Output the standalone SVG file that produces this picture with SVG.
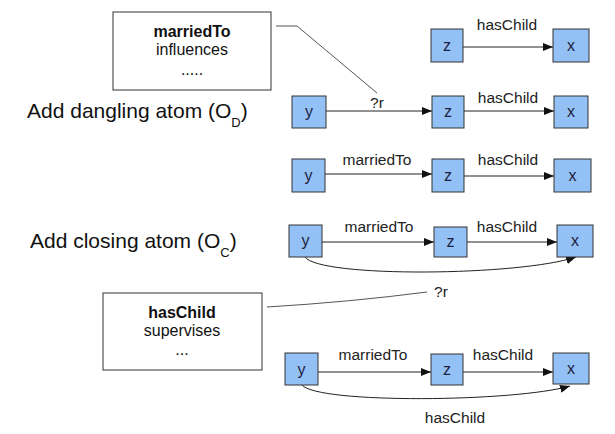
<svg xmlns="http://www.w3.org/2000/svg" width="615" height="434" viewBox="0 0 615 434">
<defs>
<style>
.n{fill:#94c1f5;stroke:#333;stroke-width:1}
.nt{font-family:"Liberation Sans",Arial,sans-serif;font-size:16px;fill:#1c2240;text-anchor:middle}
.el{font-family:"Liberation Sans",Arial,sans-serif;font-size:15.5px;fill:#222;text-anchor:middle}
.e{fill:none;stroke:#222;stroke-width:1}
.ld{fill:none;stroke:#555;stroke-width:1}
.bx{fill:#fff;stroke:#333;stroke-width:1}
.bt{font-family:"Liberation Sans",Arial,sans-serif;font-size:16px;fill:#111;text-anchor:middle}
.big{font-family:"Liberation Sans",Arial,sans-serif;font-size:21px;fill:#111}
</style>
<marker id="ah" viewBox="0 0 10 8" refX="10" refY="4" markerWidth="10" markerHeight="8" markerUnits="userSpaceOnUse" orient="auto">
<path d="M0,0 L10,4 L0,8 Z" fill="#111"/>
</marker>
</defs>
<rect width="615" height="434" fill="#fff"/>

<g id="titles">
<text class="big" x="27" y="118">Add dangling atom (O<tspan font-size="13" dy="9">D</tspan><tspan dy="-9">)</tspan></text>
<text class="big" x="30" y="248">Add closing atom (O<tspan font-size="13" dy="9">C</tspan><tspan dy="-9">)</tspan></text>
</g>

<g id="connectors">
<path class="ld" d="M276,26 L297,26 L377,93"/>
<path class="ld" d="M267,307 Q350,302 427,292"/>
<path class="e" marker-end="url(#ah)" d="M463,47 L553,47"/>
<path class="e" marker-end="url(#ah)" d="M326,111 L432,111"/>
<path class="e" marker-end="url(#ah)" d="M464,111 L554,111"/>
<path class="e" marker-end="url(#ah)" d="M325,174 L432,174"/>
<path class="e" marker-end="url(#ah)" d="M464,176 L554,176"/>
<path class="e" marker-end="url(#ah)" d="M322,242 L434,242"/>
<path class="e" marker-end="url(#ah)" d="M467,242 L557,242"/>
<path class="e" marker-end="url(#ah)" d="M305,257 C320,278 520,276 576,257"/>
<path class="e" marker-end="url(#ah)" d="M318,372 L431,372"/>
<path class="e" marker-end="url(#ah)" d="M463,372 L553,372"/>
<path class="e" marker-end="url(#ah)" d="M302,385 C318,404 515,402 570,386"/>
<text class="el" x="507" y="30">hasChild</text>
<text class="el" x="377" y="108">?r</text>
<text class="el" x="508" y="103">hasChild</text>
<text class="el" x="377" y="165">marriedTo</text>
<text class="el" x="508" y="165">hasChild</text>
<text class="el" x="379" y="232">marriedTo</text>
<text class="el" x="507" y="232">hasChild</text>
<text class="el" x="441" y="297">?r</text>
<text class="el" x="373" y="360">marriedTo</text>
<text class="el" x="503" y="360">hasChild</text>
<text class="el" x="455" y="423">hasChild</text>
</g>

<g id="box-marriedTo">
<rect class="bx" x="113" y="12" width="158" height="78"/>
<text class="bt" x="192" y="37" font-weight="bold">marriedTo</text>
<text class="bt" x="192" y="55">influences</text>
<text class="bt" x="192" y="75">.....</text>
</g>
<g id="box-hasChild">
<rect class="bx" x="103" y="293" width="159" height="77"/>
<text class="bt" x="182" y="318" font-weight="bold">hasChild</text>
<text class="bt" x="182" y="336">supervises</text>
<text class="bt" x="182" y="355">...</text>
</g>

<g id="r1-z"><rect class="n" x="431" y="29" width="32" height="33"/><text class="nt" x="447" y="51">z</text></g>
<g id="r1-x"><rect class="n" x="553" y="29" width="36" height="33"/><text class="nt" x="571" y="51">x</text></g>

<g id="r2-y"><rect class="n" x="292" y="96" width="34" height="32"/><text class="nt" x="309" y="117">y</text></g>
<g id="r2-z"><rect class="n" x="432" y="96" width="32" height="32"/><text class="nt" x="448" y="117">z</text></g>
<g id="r2-x"><rect class="n" x="554" y="96" width="34" height="32"/><text class="nt" x="571" y="117">x</text></g>

<g id="r3-y"><rect class="n" x="292" y="159" width="33" height="33"/><text class="nt" x="308.5" y="181">y</text></g>
<g id="r3-z"><rect class="n" x="432" y="159" width="32" height="33"/><text class="nt" x="448" y="181">z</text></g>
<g id="r3-x"><rect class="n" x="554" y="159" width="37" height="33"/><text class="nt" x="572.5" y="181">x</text></g>

<g id="r4-y"><rect class="n" x="289" y="225" width="33" height="32"/><text class="nt" x="305.5" y="246">y</text></g>
<g id="r4-z"><rect class="n" x="434" y="227" width="33" height="30"/><text class="nt" x="450.5" y="247">z</text></g>
<g id="r4-x"><rect class="n" x="557" y="225" width="36" height="32"/><text class="nt" x="575" y="246">x</text></g>

<g id="r5-y"><rect class="n" x="285" y="353" width="33" height="32"/><text class="nt" x="301.5" y="375">y</text></g>
<g id="r5-z"><rect class="n" x="431" y="354" width="32" height="31"/><text class="nt" x="447" y="375">z</text></g>
<g id="r5-x"><rect class="n" x="553" y="353" width="36" height="31"/><text class="nt" x="571" y="374">x</text></g>
</svg>
